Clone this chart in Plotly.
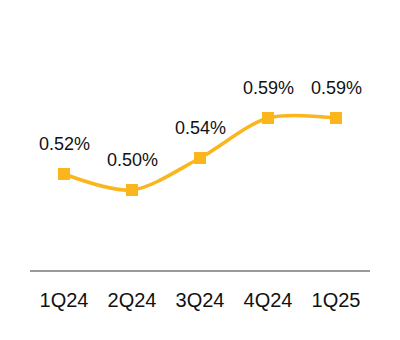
import plotly.graph_objects as go

categories = ["1Q24", "2Q24", "3Q24", "4Q24", "1Q25"]
values = [0.52, 0.50, 0.54, 0.59, 0.59]
labels = ["0.52%", "0.50%", "0.54%", "0.59%", "0.59%"]

color = "#FBB51D"
fig = go.Figure()
fig.add_trace(go.Scatter(
    x=categories, y=values, mode="lines+markers",
    line=dict(color=color, width=3.5, shape="spline", smoothing=0.85),
    marker=dict(symbol="square", size=12, color=color),
    hoverinfo="skip",
))
for c, v, t in zip(categories, values, labels):
    fig.add_annotation(x=c, y=v, text=t, showarrow=False, yshift=30,
                       font=dict(size=18, color="#111111", family="Liberation Sans, Arial"))

fig.update_layout(
    width=400, height=340,
    margin=dict(l=30, r=30, t=20, b=70),
    paper_bgcolor="white", plot_bgcolor="white",
    showlegend=False,
    xaxis=dict(type="category", range=[-0.5, 4.5], showgrid=False, zeroline=False,
               showline=True, linecolor="#999999", linewidth=2,
               ticks="outside", ticklen=11, tickcolor="rgba(0,0,0,0)",
               tickfont=dict(size=20, color="#111111", family="Liberation Sans, Arial")),
    yaxis=dict(range=[0.40, 0.7125], visible=False, showgrid=False, zeroline=False),
)
fig.write_html("out.html")
